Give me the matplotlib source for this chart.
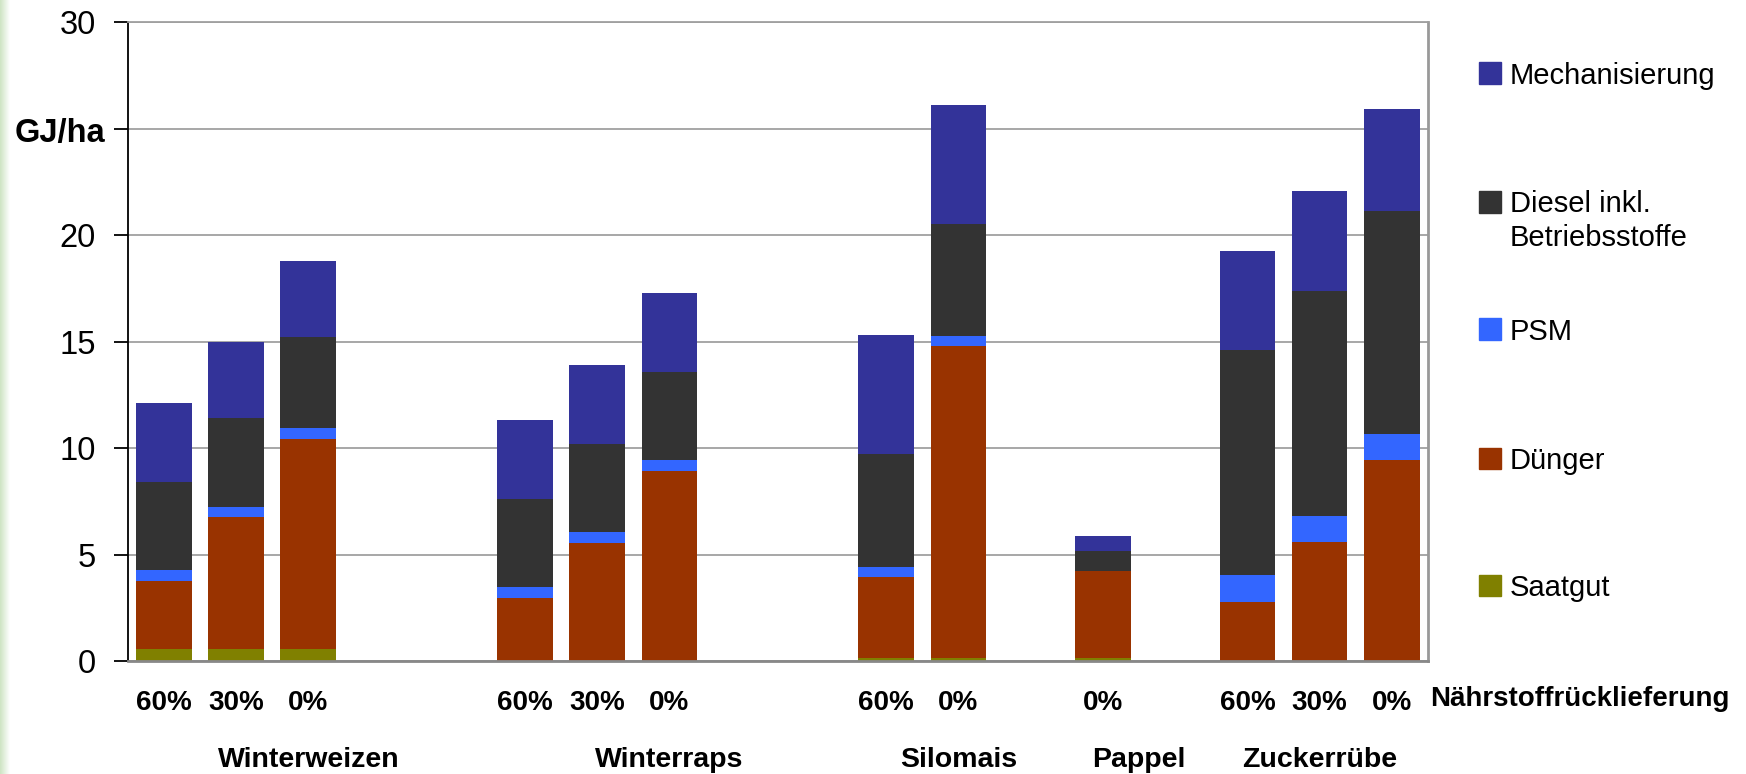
import matplotlib.pyplot as plt
import matplotlib.transforms as mtransforms
from matplotlib.patches import Rectangle
from matplotlib.colors import LinearSegmentedColormap
import numpy as np

plt.rcParams['font.family'] = ['Liberation Sans', 'DejaVu Sans']

# Energieaufwand je Kultur und Nährstoffrücklieferung (GJ/ha)
kulturen = ['Winterweizen', 'Winterraps', 'Silomais', 'Pappel', 'Zuckerrübe']
rueckl = ['60%', '30%', '0%', '60%', '30%', '0%', '60%', '0%', '0%', '60%', '30%', '0%']

saatgut = [0.56, 0.56, 0.56, 0, 0, 0, 0.12, 0.12, 0.12, 0, 0, 0]
duenger = [3.20, 6.20, 9.87, 2.96, 5.54, 8.92, 3.84, 14.69, 4.12, 2.79, 5.58, 9.45]
psm = [0.51, 0.47, 0.51, 0.52, 0.52, 0.52, 0.47, 0.47, 0, 1.26, 1.24, 1.19]
diesel = [4.15, 4.20, 4.28, 4.13, 4.13, 4.13, 5.30, 5.25, 0.94, 10.54, 10.57, 10.51]
mechanisierung = [3.70, 3.55, 3.57, 3.71, 3.71, 3.72, 5.59, 5.60, 0.70, 4.69, 4.69, 4.79]

reihen = [
    ('Saatgut', saatgut, '#808000'),
    ('Dünger', duenger, '#993300'),
    ('PSM', psm, '#3366FF'),
    ('Diesel inkl.\nBetriebsstoffe', diesel, '#333333'),
    ('Mechanisierung', mechanisierung, '#333399'),
]

# Kategorienplätze (18 Plätze, Lücken zwischen den Kulturen)
slots = [0, 1, 2, 5, 6, 7, 10, 11, 13, 15, 16, 17]
kultur_x = [2, 7, 11, 13.5, 16]

W, H = 1746, 774
fig = plt.figure(figsize=(W / 100, H / 100), dpi=100)

# schmaler grüner Rand links
strip = fig.add_axes([0, 0, 10 / W, 1])
cmap = LinearSegmentedColormap.from_list('rand', ['#cde4c3', '#ffffff'])
strip.imshow(np.linspace(0, 1, 50)[None, :], aspect='auto', cmap=cmap)
strip.axis('off')

ax = fig.add_axes([127.7 / W, 1 - 661 / H, (1428 - 127.7) / W, (661 - 22.3) / H])

unten = np.zeros(len(slots))
for name, werte, farbe in reihen:
    werte = np.array(werte)
    ax.bar(slots, werte, 0.77, bottom=unten, color=farbe, linewidth=0, zorder=2)
    unten += werte

ax.set_xlim(-0.5, 17.5)
ax.set_ylim(0, 30)
ax.set_yticks(range(0, 31, 5))
ax.set_yticklabels(['0', '5', '10', '15', '20', '', '30'])
ax.tick_params(axis='y', length=10, width=1.3, direction='out', pad=13, labelsize=23.5)
ax.set_xticks([])
ax.yaxis.grid(True, color='#a0a0a0', linewidth=1.3, zorder=0)
ax.set_axisbelow(True)

ax.spines['left'].set_color('black')
ax.spines['left'].set_linewidth(1.3)
ax.spines['top'].set_color('#a0a0a0')
ax.spines['top'].set_linewidth(1.3)
ax.spines['right'].set_color('#999999')
ax.spines['right'].set_linewidth(2)
ax.spines['bottom'].set_color('#888888')
ax.spines['bottom'].set_linewidth(2)

trans = mtransforms.blended_transform_factory(ax.transData, fig.transFigure)
for x, lab in zip(slots, rueckl):
    ax.text(x, 1 - 710 / H, lab, transform=trans, ha='center', va='baseline',
            fontsize=20, fontweight='bold')
for x, lab in zip(kultur_x, kulturen):
    ax.text(x, 1 - 767 / H, lab, transform=trans, ha='center', va='baseline',
            fontsize=20.5, fontweight='bold')

fig.text(1430 / W, 1 - 706 / H, 'Nährstoffrücklieferung', ha='left', va='baseline',
         fontsize=20, fontweight='bold')
fig.text(105 / W, 1 - 142 / H, 'GJ/ha', ha='right', va='baseline',
         fontsize=23.5, fontweight='bold')

# Legende
leg_y = [585, 458, 329, 202, 73]
for (name, _, farbe), yc in zip(reihen, leg_y):
    fig.patches.append(Rectangle((1479 / W, 1 - (yc + 10.5) / H), 22 / W, 21 / H,
                                 transform=fig.transFigure, color=farbe))
    zeilen = name.split('\n')
    for k, z in enumerate(zeilen):
        fig.text(1510 / W, 1 - (yc + 10.5 + 33 * k) / H, z, ha='left', va='baseline',
                 fontsize=21)

fig.savefig('out.png', dpi=100)
